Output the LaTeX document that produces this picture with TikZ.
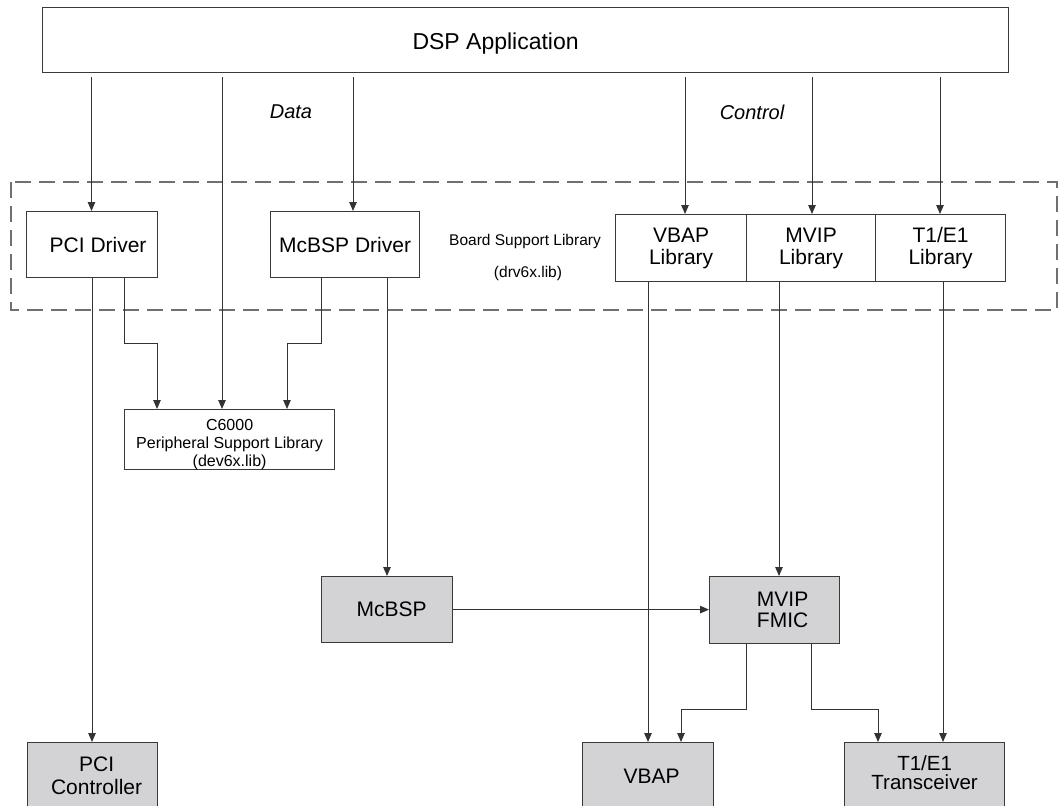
\documentclass[tikz,border=0pt]{standalone}
\usepackage{fontspec}
\setmainfont{Liberation Sans}
\usetikzlibrary{arrows.meta}
\definecolor{ln}{HTML}{333333}
\definecolor{bx}{HTML}{3A3A3A}
\definecolor{gf}{RGB}{211,211,214}
\definecolor{dsh}{HTML}{707070}
\begin{document}
\begin{tikzpicture}[x=1pt,y=1pt,
  box/.style={draw=bx,line width=1.2pt,inner sep=0pt,anchor=north west,align=center,
              font=\fontsize{21}{22}\selectfont},
  gbox/.style={box,fill=gf},
  conn/.style={draw=ln,line width=1pt},
  arr/.style={conn,-{Triangle[length=9pt,width=7.5pt]}},
  big/.style={font=\fontsize{21}{22}\selectfont},
  small/.style={font=\fontsize{15.5}{18}\selectfont},
  note/.style={font=\fontsize{20}{22}\selectfont\itshape},
]
\useasboundingbox (0,0) rectangle (1058,-806);
\fill[white] (0,0) rectangle (1058,-806);

% board support region
\draw[dsh,line width=1.2pt,dash pattern=on 16pt off 8pt] (11,-182) rectangle (1057,-310);

% top application
\node[box,minimum width=966pt,minimum height=65pt,
      label={[font=\fontsize{23}{24}\selectfont,xshift=-30pt,yshift=-3pt]center:DSP Application}] (dsp) at (42,-7) {};

\node[note] (data) at (291,-112) {Data};
\node[note] (ctrl) at (752,-112) {Control};

% drivers
\node[box,minimum width=131pt,minimum height=66pt,
      label={[big,xshift=6pt]center:PCI Driver}] (pcid) at (26,-211) {};
\node[box,minimum width=149pt,minimum height=66pt] (mcbspd) at (270,-211) {McBSP Driver};

\node[small] (bsl) at (525,-241) {Board Support Library};
\node[small] (drv) at (528,-273) {(drv6x.lib)};

\node[box,minimum width=131pt,minimum height=67pt] (vbapl) at (615,-214) {VBAP\\Library};
\node[box,minimum width=129pt,minimum height=67pt] (mvipl) at (746,-214) {MVIP\\Library};
\node[box,minimum width=130pt,minimum height=67pt] (t1l) at (875,-214) {T1/E1\\Library};

% peripheral support library
\node[box,minimum width=210pt,minimum height=60pt,
      label={[align=center,font=\fontsize{16}{18}\selectfont,yshift=-5pt]center:C6000\\Peripheral Support Library\\(dev6x.lib)}] (psl) at (124,-409) {};

% hardware
\node[gbox,minimum width=131pt,minimum height=66pt,
      label={[big,xshift=4.5pt]center:McBSP}] (mcbsp) at (321,-576) {};
\node[gbox,minimum width=130pt,minimum height=67pt,
      label={[align=center,font=\fontsize{21}{21}\selectfont,xshift=8pt]center:MVIP\\FMIC}] (fmic) at (709,-576) {};
\node[gbox,minimum width=130pt,minimum height=80pt,
      label={[align=center,font=\fontsize{21}{23}\selectfont,xshift=4pt,yshift=7pt]center:PCI\\Controller}] (pcc) at (27,-742) {};
\node[gbox,minimum width=131pt,minimum height=80pt,
      label={[big,xshift=3.5pt,yshift=6pt]center:VBAP}] (vbap) at (582,-742) {};
\node[gbox,minimum width=160pt,minimum height=80pt,
      label={[align=center,font=\fontsize{20.5}{19.5}\selectfont,yshift=10pt]center:T1/E1\\Transceiver}] (t1t) at (844,-742) {};

% lanes
\coordinate (xa) at (91.5,0);
\coordinate (xb) at (222,0);
\coordinate (xc) at (353,0);
\coordinate (xd) at (685,0);
\coordinate (xe) at (812,0);
\coordinate (xf) at (940,0);
\coordinate (pa) at (92,0);
\coordinate (mc) at (387,0);
\coordinate (va) at (648,0);
\coordinate (vm) at (779,0);
\coordinate (vt) at (943,0);
\coordinate (pb) at (124,-343);
\coordinate (pc) at (157,-343);
\coordinate (ma) at (321,-343);
\coordinate (mb) at (287,-343);
\coordinate (fa) at (746,-709);
\coordinate (fb) at (681,-709);
\coordinate (fc) at (811,-709);
\coordinate (fd) at (878,-709);

% from application
\draw[arr,shorten <=4pt] (dsp.south -| xa) -- (pcid.north -| xa);
\draw[arr,shorten <=4pt] (dsp.south -| xb) -- (psl.north -| xb);
\draw[arr,shorten <=4pt] (dsp.south -| xc) -- (mcbspd.north -| xc);
\draw[arr,shorten <=4pt] (dsp.south -| xd) -- (vbapl.north -| xd);
\draw[arr,shorten <=4pt] (dsp.south -| xe) -- (mvipl.north -| xe);
\draw[arr,shorten <=4pt] (dsp.south -| xf) -- (t1l.north -| xf);

% drivers down
\draw[arr] (pcid.south -| pa) -- (pcc.north -| pa);
\draw[arr] (pcid.south -| pb) -- (pb) -- (pc) -- (psl.north -| pc);
\draw[arr] (mcbspd.south -| ma) -- (ma) -- (mb) -- (psl.north -| mb);
\draw[arr] (mcbspd.south -| mc) -- (mcbsp.north -| mc);

% libraries down
\draw[arr] (vbapl.south -| va) -- (vbap.north -| va);
\draw[arr] (mvipl.south -| vm) -- (fmic.north -| vm);
\draw[arr] (t1l.south -| vt) -- (t1t.north -| vt);

% hardware links
\draw[arr] (mcbsp.east) -- (mcbsp.east -| fmic.west);
\draw[arr] (fmic.south -| fa) -- (fa) -- (fb) -- (vbap.north -| fb);
\draw[arr] (fmic.south -| fc) -- (fc) -- (fd) -- (t1t.north -| fd);
\end{tikzpicture}
\end{document}
